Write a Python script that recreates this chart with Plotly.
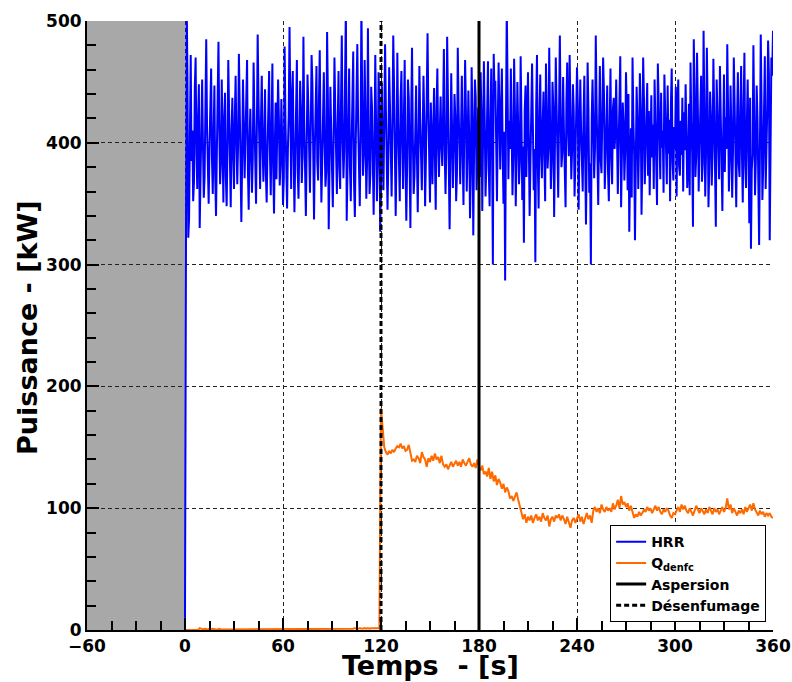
import numpy as np
import plotly.graph_objects as go

# HRR sampled every 0.5 s from t = 0 s
hrr = [
    10,220,520,455,322,338,430,472,385,410,352,368,445,470,392,362,420,448,330,372,
    415,452,398,355,372,440,485,412,376,350,396,433,461,388,358,405,447,372,340,392,
    436,483,410,366,385,452,398,351,420,441,372,348,395,468,426,380,347,410,437,389,
    362,421,455,402,366,398,473,430,378,335,387,452,416,371,401,446,468,379,345,400,
    428,392,359,388,466,421,373,350,412,489,437,380,362,417,455,398,368,402,444,375,
    351,393,428,459,391,357,412,465,380,342,398,433,370,411,452,419,365,384,436,402,
    349,371,479,418,381,346,395,423,495,402,362,438,459,390,343,386,415,468,376,354,
    399,451,427,367,389,487,419,372,340,395,456,431,388,359,412,472,449,381,337,396,
    425,463,384,369,434,476,402,351,383,418,458,399,364,377,491,436,329,382,446,412,
    368,347,403,470,427,393,358,415,459,380,362,431,488,405,371,394,449,512,336,385,
    423,461,380,352,398,437,475,366,339,397,428,481,416,360,348,402,514,437,373,390,
    468,422,354,386,494,411,358,375,446,429,363,341,396,472,415,352,381,458,433,327,
    370,449,392,361,419,481,427,368,345,389,462,430,398,356,410,488,446,371,340,392,
    474,417,383,352,435,459,401,362,419,468,381,336,381,452,437,392,330,424,478,403,
    358,373,411,447,389,343,396,463,420,377,361,405,455,417,348,386,442,490,426,369,
    351,433,408,366,414,445,388,345,427,461,398,372,409,438,397,381,423,477,392,358,
    394,487,436,371,329,388,457,412,363,396,440,421,352,374,478,430,381,366,409,455,
    392,349,413,468,426,360,395,443,405,338,376,462,418,324,395,452,437,361,386,429,
    410,372,458,423,344,390,467,419,356,382,440,467,377,348,418,461,395,300,473,442,
    451,398,352,416,466,425,378,428,461,392,350,409,287,415,512,446,370,418,395,461,
    424,357,389,469,427,348,392,450,412,366,384,471,418,353,397,318,427,447,372,412,
    458,401,340,384,431,465,414,361,395,302,429,472,383,346,420,456,391,371,417,442,
    388,352,465,423,379,396,478,419,362,384,450,429,339,398,470,431,367,355,423,488,
    419,380,392,454,410,363,347,433,466,411,389,472,418,370,394,448,426,356,383,417,
    462,431,345,399,452,412,372,360,421,455,387,333,391,466,428,359,383,300,420,452,
    416,371,395,488,431,364,349,412,463,386,375,425,470,441,362,387,419,447,376,352,
    414,461,389,366,428,437,395,410,452,381,358,398,426,471,347,385,433,416,369,392,
    458,425,361,440,327,378,412,355,470,421,390,320,374,446,418,362,399,457,428,341,
    384,470,436,366,392,412,449,373,426,357,401,439,388,415,362,452,418,381,349,465,
    423,387,370,441,396,410,359,456,430,382,366,447,391,419,352,432,461,384,369,413,
    395,446,356,429,452,381,373,418,390,437,360,425,394,448,412,363,379,432,357,466,
    417,392,331,485,444,372,389,474,428,360,395,423,455,368,383,492,417,356,391,478,
    431,347,380,442,421,365,394,469,427,352,331,452,418,381,370,463,432,389,344,406,
    456,376,421,395,481,428,360,386,447,412,355,392,470,433,369,347,419,458,383,372,
    425,463,390,351,430,474,381,363,418,452,396,334,437,313,378,390,480,429,357,386,
    447,421,370,316,395,489,432,353,380,416,471,362,389,428,484,456,320,431,470,455,
    492,
]

# Q_denfc sampled every 1 s from t = 0 s
q_denfc = [
    0,0,0,0,0,0,0,0,0,1.5, 1,0.5,1,0.5,0.5,1,0.5,1,0.5,0.5,
    0.5,1,0.5,0.5,1,0.5,0.5,1,0.5,0.5, 1,0.5,0.5,1,0.5,0.5,1,0.5,0.5,1,
    0.5,1,0.5,0.5,1,0.5,0.5,1,0.5,0.5, 1,0.5,0.5,1,0.5,0.5,1,0.5,0.5,1,
    0.5,1,0.5,0.5,1,0.5,0.5,1,0.5,0.5, 1,0.5,0.5,1,0.5,0.5,1,0.5,0.5,1,
    0.5,1,0.5,0.5,1,0.5,0.5,1,0.5,0.5, 1,0.5,0.5,1,0.5,0.5,1,0.5,0.5,1,
    1,1,0.5,1,1.5,1,1,1.5,1,1, 1.5,1,1.5,1,1.5,1.5,1,1.5,1.5,1.5,
    182,165,150,146,144,147,145,148,146,149,
    151,150,153,149,151,147,148,152,145,139,
    140,138,143,141,137,146,142,140,134,141,
    138,143,139,145,140,142,137,143,136,134,
    136,132,135,138,134,137,139,135,138,134,
    140,137,135,138,141,136,134,137,133,140,
    134,131,135,128,130,126,133,124,130,122,
    127,119,124,121,116,120,113,117,114,108,
    110,106,110,113,107,101,96,91,95,88,
    93,90,94,88,92,95,90,93,89,96,
    92,90,94,85,91,93,89,94,92,95,
    90,94,91,87,93,89,84,90,92,88,
    91,95,89,93,87,92,96,91,94,88,
    98,101,97,100,96,103,99,97,101,98,
    100,97,104,99,102,107,100,110,103,105,
    101,104,98,102,96,92,95,93,97,94,
    96,99,97,101,98,100,96,99,102,98,
    101,97,95,99,97,100,98,94,92,96,
    95,98,101,97,103,99,102,98,96,100,
    97,94,98,102,99,96,100,97,95,99,
    96,101,98,95,100,97,99,95,98,101,
    97,100,108,99,103,96,100,97,94,98,
    96,99,95,101,97,100,103,98,104,99,
    96,94,98,95,97,93,96,94,96,93,
    92,
]

t_hrr = np.arange(len(hrr)) * 0.5
t_q = np.arange(len(q_denfc)) * 1.0

t_aspersion = 180
t_desenfumage = 120
x_ticks = [-60, 0, 60, 120, 180, 240, 300, 360]
y_ticks = [0, 100, 200, 300, 400, 500]

FONT = "DejaVu Sans"

fig = go.Figure()
fig.add_trace(go.Scatter(x=t_hrr, y=hrr, mode="lines", name="<b>HRR</b>",
                         line=dict(color="#0000ff", width=2)))
fig.add_trace(go.Scatter(x=t_q, y=q_denfc, mode="lines", name="<b>Q<sub>denfc</sub></b>",
                         line=dict(color="#ff6a00", width=2)))
fig.add_trace(go.Scatter(x=[t_aspersion, t_aspersion], y=[0, 500], mode="lines",
                         name="<b>Aspersion</b>", line=dict(color="black", width=3)))
fig.add_trace(go.Scatter(x=[t_desenfumage, t_desenfumage], y=[0, 500], mode="lines",
                         name="<b>Désenfumage</b>",
                         line=dict(color="black", width=3, dash="5px,3px")))

fig.add_shape(type="rect", x0=-60, x1=0, y0=0, y1=1, xref="x", yref="y domain",
              fillcolor="#a8a8a8", line=dict(width=0), layer="below")

axis_common = dict(
    showline=True, linecolor="black", linewidth=2, mirror=False,
    ticks="inside", ticklen=12, tickwidth=2, tickcolor="black",
    showgrid=True, gridcolor="#222222", gridwidth=1, griddash="4px,3px",
    zeroline=False, automargin=False,
    tickfont=dict(family=FONT, size=17, color="black", weight="bold"),
)

fig.update_xaxes(range=[-60, 360], tickvals=x_ticks,
                 minor=dict(dtick=15, ticks="inside", ticklen=9, tickwidth=2,
                            tickcolor="black", showgrid=False),
                 **axis_common)
fig.update_yaxes(range=[0, 500], tickvals=y_ticks,
                 minor=dict(dtick=20, ticks="inside", ticklen=9, tickwidth=2,
                            tickcolor="black", showgrid=False),
                 **axis_common)

fig.add_annotation(text="<b>Temps  - [s]</b>", xref="paper", yref="paper",
                   x=0.5, y=-0.0575, xanchor="center", yanchor="middle",
                   showarrow=False, font=dict(family=FONT, size=27, color="black"))
fig.add_annotation(text="<b>Puissance - [kW]</b>", xref="paper", yref="paper",
                   x=-0.086, y=0.496, xanchor="center", yanchor="middle", textangle=-90,
                   showarrow=False, font=dict(family=FONT, size=27, color="black"))

fig.update_layout(
    width=792, height=682,
    margin=dict(l=87, r=19, t=21, b=52, autoexpand=False),
    paper_bgcolor="white", plot_bgcolor="white",
    font=dict(family=FONT, color="black"),
    legend=dict(x=0.99, y=0.013, xanchor="right", yanchor="bottom",
                bgcolor="white", bordercolor="black", borderwidth=1,
                font=dict(family=FONT, size=14, color="black"),
                tracegroupgap=0, itemwidth=30),
    showlegend=True,
)

fig.write_html("out.html", config={"displayModeBar": False},
               post_script="document.body.style.margin='0';document.body.style.padding='0';")
